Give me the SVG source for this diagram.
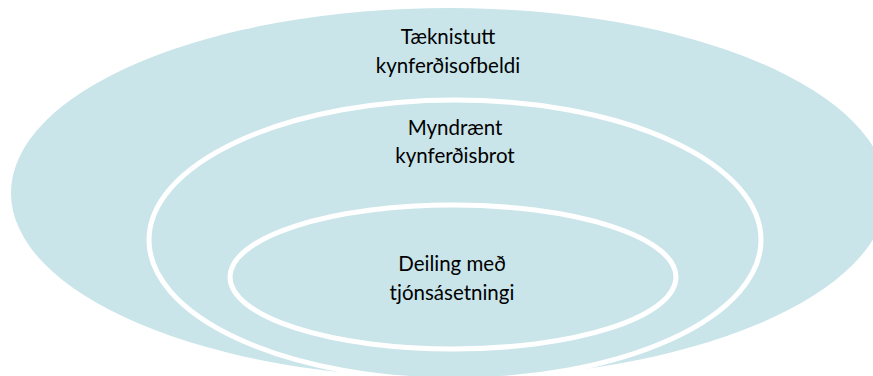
<svg xmlns="http://www.w3.org/2000/svg" width="873" height="376" viewBox="0 0 873 376">
  <style>
    .fill { fill: #c9e5ea; }
    .ring { fill: #c9e5ea; stroke: #ffffff; stroke-width: 5; }
    .lbl { font-family: Lato, "Open Sans", "Liberation Sans", sans-serif; font-size: 20.5px; fill: #000000; text-anchor: middle; }
  </style>
  <rect x="0" y="0" width="873" height="376" fill="#ffffff"/>
  <g id="outer">
    <ellipse class="fill" cx="449" cy="193" rx="438" ry="185"/>
    <text class="lbl" x="448" y="44">Tæknistutt</text>
    <text class="lbl" x="448" y="73">kynferðisofbeldi</text>
  </g>
  <g id="middle">
    <ellipse class="ring" cx="455" cy="240" rx="306" ry="140"/>
    <text class="lbl" x="455" y="135">Myndrænt</text>
    <text class="lbl" x="455" y="163">kynferðisbrot</text>
  </g>
  <g id="inner">
    <ellipse class="ring" cx="453" cy="277" rx="223" ry="72"/>
    <text class="lbl" x="452" y="271">Deiling með</text>
    <text class="lbl" x="452" y="300">tjónsásetningi</text>
  </g>
  <g id="connectors"/>
</svg>
